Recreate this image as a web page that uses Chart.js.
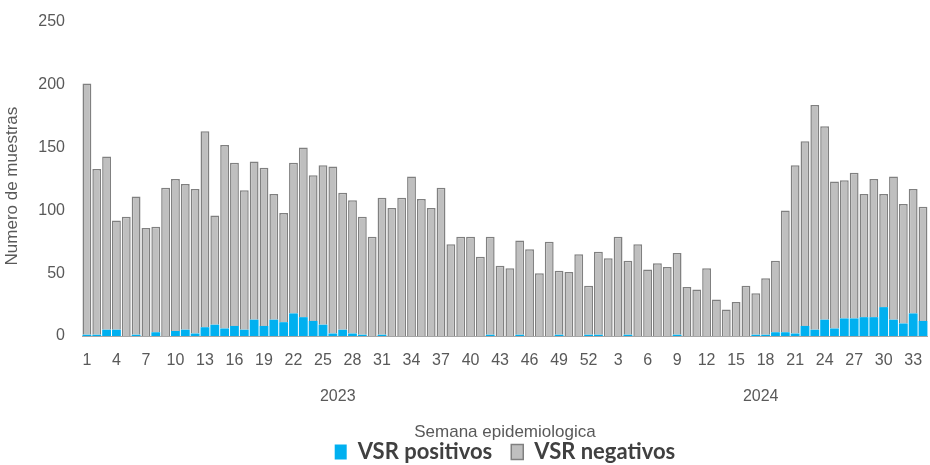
<!DOCTYPE html>
<html>
<head>
<meta charset="utf-8">
<script src="https://cdn.jsdelivr.net/npm/chart.js@4.4.1/dist/chart.umd.min.js"></script>
<style>
  html, body { margin: 0; padding: 0; background: #fff; }
  #wrap { width: 930px; height: 465px; position: relative; }
</style>
</head>
<body>
<div id="wrap"><canvas id="chart"></canvas></div>
<script>
// Semanas epidemiologicas por año
const years = ['2023', '2024'];
const weeks2023 = [1,2,3,4,5,6,7,8,9,10,11,12,13,14,15,16,17,18,19,20,21,22,23,24,25,26,
  27,28,29,30,31,32,33,34,35,36,37,38,39,40,41,42,43,44,45,46,47,48,49,50,51,52];
const weeks2024 = [1,2,3,4,5,6,7,8,9,10,11,12,13,14,15,16,17,18,19,20,21,22,23,24,25,26,
  27,28,29,30,31,32,33,34];

// VSR positivos
const positivos2023 = [1,1,5,5,0,1,0,3,0,4,5,2,7,9,6,8,5,13,8,13,11,18,15,12,9,2,
  5,2,1,0,1,0,0,0,0,0,0,0,0,0,0,1,0,0,1,0,0,0,1,0,0,1];
const positivos2024 = [1,0,0,1,0,0,0,0,1,0,0,0,0,0,0,0,1,1,3,3,2,8,5,13,6,14,
  14,15,15,23,13,10,18,12];

// VSR negativos
const negativos2023 = [200,132,138,87,95,110,86,84,118,121,116,115,156,87,146,130,111,126,126,100,87,120,135,116,127,133,
  109,106,94,79,109,102,110,127,109,102,118,73,79,79,63,78,56,54,75,69,50,75,51,51,65,39];
const negativos2024 = [66,62,79,59,73,53,58,55,65,39,37,54,29,21,27,40,33,45,57,97,134,147,179,154,117,110,
  116,98,110,90,114,95,99,91];

const yTicks = [0, 50, 100, 150, 200, 250];

const labels = weeks2023.concat(weeks2024).map(String);
const yearGroups = [weeks2023.length, weeks2024.length];

const textColor = '#595959';
const baseFont = 'Liberation Sans, Arial, sans-serif';

/** Draws the year under each group of weeks */
const yearLabels = {
  id: 'yearLabels',
  afterDraw(chart) {
    const { ctx, chartArea } = chart;
    const x = chart.scales.x;
    let start = 0;
    ctx.save();
    ctx.font = '16px ' + baseFont;
    ctx.fillStyle = textColor;
    ctx.textAlign = 'center';
    ctx.textBaseline = 'middle';
    yearGroups.forEach((n, i) => {
      const a = x.getPixelForValue(start);
      const b = x.getPixelForValue(start + n - 1);
      ctx.fillText(years[i], (a + b) / 2, chartArea.bottom + 61);
      start += n;
    });
    ctx.restore();
  }
};

new Chart(document.getElementById('chart'), {
  type: 'bar',
  data: {
    labels,
    datasets: [
      {
        label: 'VSR positivos',
        data: positivos2023.concat(positivos2024),
        backgroundColor: '#00B0F0',
        borderWidth: 0,
        barPercentage: 0.9,
        categoryPercentage: 1,
      },
      {
        label: 'VSR negativos',
        data: negativos2023.concat(negativos2024),
        backgroundColor: '#BFBFBF',
        borderColor: '#808080',
        borderWidth: 1.5,
        barPercentage: 0.9,
        categoryPercentage: 1,
      },
    ],
  },
  options: {
    responsive: true,
    maintainAspectRatio: false,
    animation: false,
    layout: { padding: { top: 22, right: 0, left: 0, bottom: -8 } },
    scales: {
      x: {
        stacked: true,
        afterFit: (s) => { s.height = 86; },
        grid: { display: false },
        border: { display: true, color: '#a6a6a6', width: 1 },
        ticks: {
          autoSkip: false,
          maxRotation: 0,
          padding: 7,
          color: textColor,
          font: { family: baseFont, size: 16 },
          callback: (v, i) => (i % 3 === 0 ? labels[i] : ''),
        },
        title: {
          display: true,
          text: 'Semana epidemiologica',
          color: textColor,
          font: { family: baseFont, size: 17 },
          padding: { top: 0, bottom: -21 },
        },
      },
      y: {
        stacked: true,
        min: 0,
        max: 250,
        afterFit: (s) => { s.width = 82; },
        afterBuildTicks: (s) => { s.ticks = yTicks.map((v) => ({ value: v })); },
        grid: { display: false },
        border: { display: false },
        ticks: {
          padding: 9,
          color: textColor,
          font: { family: baseFont, size: 16 },
        },
        title: {
          display: true,
          text: 'Numero de muestras   ',
          color: textColor,
          font: { family: baseFont, size: 17 },
          padding: { top: 2, bottom: 4 },
        },
      },
    },
    plugins: {
      legend: {
        position: 'bottom',
        fullSize: false,
        labels: {
          boxWidth: 12,
          boxHeight: 15,
          padding: 19,
          color: '#404040',
          font: { family: 'Lato, sans-serif', size: 22, weight: 'bold' },
        },
      },
      tooltip: { enabled: false },
    },
  },
  plugins: [yearLabels],
});
</script>
</body>
</html>
